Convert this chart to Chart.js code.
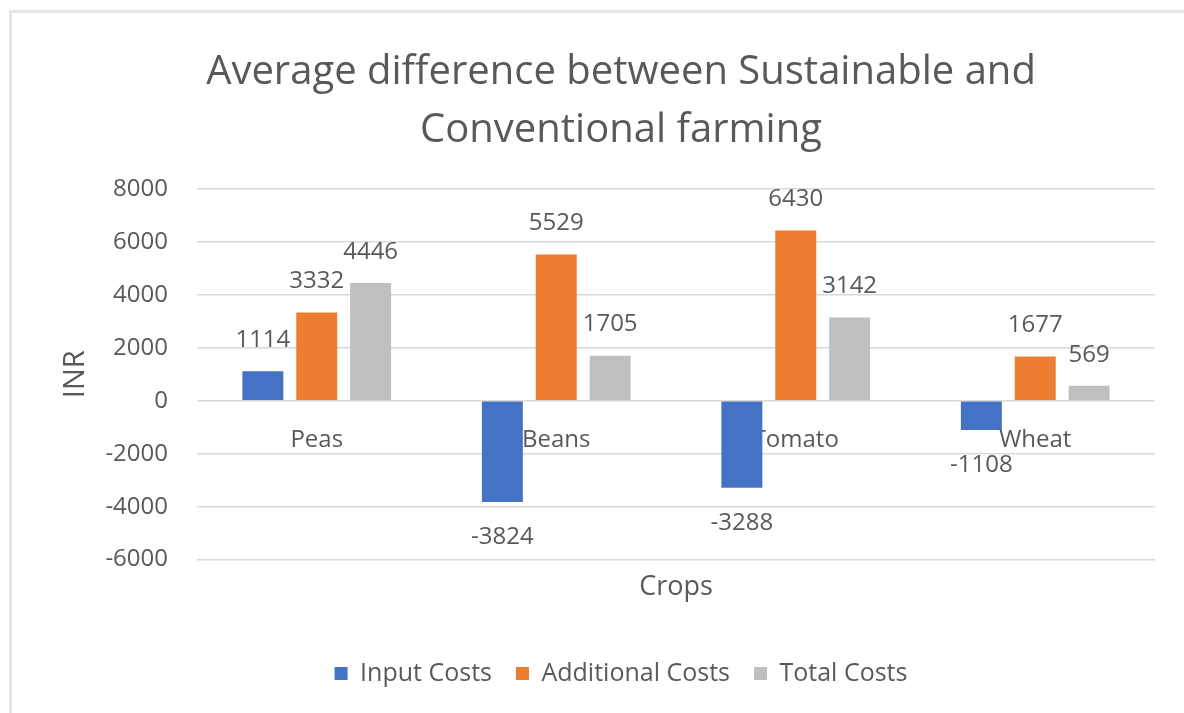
<!DOCTYPE html>
<html lang="en">
<head>
  <meta charset="UTF-8">
  <title>Average difference between Sustainable and Conventional farming</title>
  <style>
    body { margin: 0; background: #fff; font-family: "Open Sans", sans-serif; }
    #frame { position: absolute; left: 9px; top: 10px; width: 1300px; height: 800px;
             border-left: 3px solid #e6e6e6; border-top: 3px solid #e6e6e6; }
    #chart-container { position: absolute; left: 0; top: 0; width: 1184px; height: 713px; }
  </style>
  <script src="https://cdn.jsdelivr.net/npm/chart.js"></script>
</head>
<body>
  <div id="frame"></div>
  <div id="chart-container">
    <canvas id="diffChart"></canvas>
  </div>
  <script>
    // data
    const crops = ['Peas', 'Beans', 'Tomato', 'Wheat'];
    const inputCosts = [1114, -3824, -3288, -1108];
    const additionalCosts = [3332, 5529, 6430, 1677];
    const totalCosts = [4446, 1705, 3142, 569];
    const yTicks = [-6000, -4000, -2000, 0, 2000, 4000, 6000, 8000];

    const textColor = '#595959';
    const fontFamily = '"Open Sans", sans-serif';

    // value labels above / below each bar, like Excel's data labels
    const barLabels = {
      id: 'barLabels',
      afterDatasetsDraw(chart) {
        const ctx = chart.ctx;
        ctx.save();
        ctx.font = '24px ' + fontFamily;
        ctx.fillStyle = textColor;
        ctx.textAlign = 'center';
        ctx.textBaseline = 'middle';
        chart.data.datasets.forEach((ds, i) => {
          const meta = chart.getDatasetMeta(i);
          meta.data.forEach((bar, j) => {
            const v = ds.data[j];
            const y = v >= 0 ? bar.y - 31 : bar.y + 35;
            ctx.fillText(String(v), bar.x, y);
          });
        });
        ctx.restore();
      }
    };

    const ctx = document.getElementById('diffChart').getContext('2d');
    new Chart(ctx, {
      type: 'bar',
      data: {
        labels: crops,
        datasets: [
          { label: 'Input Costs', data: inputCosts, backgroundColor: '#4472C4' },
          { label: 'Additional Costs', data: additionalCosts, backgroundColor: '#ED7D31' },
          { label: 'Total Costs', data: totalCosts, backgroundColor: '#BFBFBF' }
        ]
      },
      options: {
        responsive: true,
        maintainAspectRatio: false,
        animation: false,
        categoryPercentage: 0.675,
        barPercentage: 0.76,
        layout: { padding: { left: 58, right: 0, top: 44, bottom: 17 } },
        plugins: {
          title: {
            display: true,
            text: ['Average difference between Sustainable and', 'Conventional farming'],
            color: textColor,
            font: { family: fontFamily, size: 40, weight: 'normal', lineHeight: 1.45 },
            padding: { top: 0, bottom: 29 }
          },
          legend: {
            position: 'bottom',
            labels: {
              color: textColor,
              font: { family: fontFamily, size: 25 },
              boxWidth: 13,
              boxHeight: 13,
              padding: 24
            }
          },
          tooltip: { enabled: false }
        },
        scales: {
          x: {
            position: { y: 0 },
            grid: { display: false },
            border: { display: false },
            ticks: { color: textColor, font: { family: fontFamily, size: 24 }, padding: 17 }
          },
          x2: {
            type: 'category',
            labels: crops,
            position: 'bottom',
            grid: { display: false },
            border: { display: false },
            ticks: { display: false },
            title: {
              display: true,
              text: 'Crops',
              color: textColor,
              font: { family: fontFamily, size: 27 },
              padding: { top: 4, bottom: 33 }
            }
          },
          y: {
            min: -6000,
            max: 8000,
            afterBuildTicks: (scale) => { scale.ticks = yTicks.map(v => ({ value: v })); },
            afterFit: (scale) => { scale.width = 139; },
            grid: { color: '#D9D9D9', lineWidth: 1.5, drawTicks: false },
            border: { display: false },
            ticks: {
              color: textColor,
              font: { family: fontFamily, size: 24 },
              padding: 29,
              callback: (v) => String(v)
            },
            title: {
              display: true,
              text: 'INR',
              color: textColor,
              font: { family: fontFamily, size: 29 },
              padding: { top: 0, bottom: 0 }
            }
          },
          // empty right-hand axis, only reserves the gap after the plot
          y2: {
            position: 'right',
            grid: { display: false },
            border: { display: false },
            ticks: { display: false },
            afterFit: (scale) => { scale.width = 29; }
          }
        }
      },
      plugins: [barLabels]
    });
  </script>
</body>
</html>
